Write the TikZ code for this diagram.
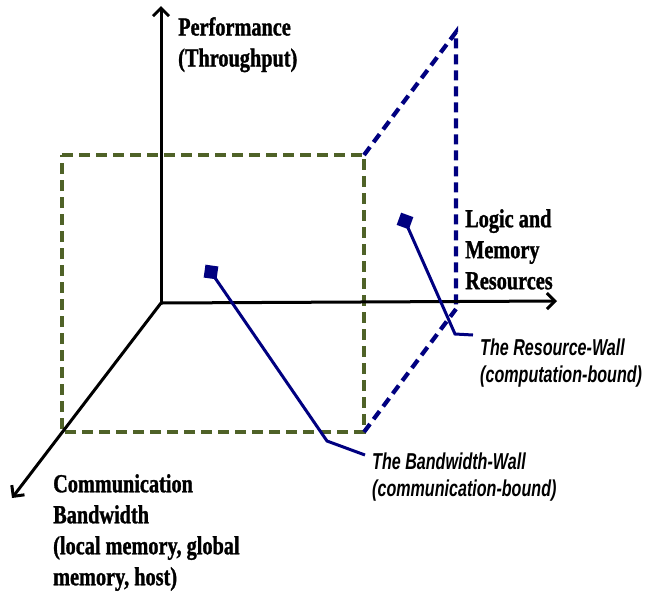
\documentclass[tikz,border=0pt]{standalone}
\usepackage{fontspec}
\usetikzlibrary{arrows.meta}
\newfontfamily\axisfont{Liberation Serif}[FakeStretch=0.78,FakeBold=1.2]
\newfontfamily\wallfont{Liberation Sans}[FakeStretch=0.70]
\definecolor{olivedash}{RGB}{79,98,40}
\definecolor{navyblue}{RGB}{0,0,128}
\begin{document}
\begin{tikzpicture}[x=1pt,y=-1pt,
  axis/.style={line width=3pt,-{Straight Barb[length=8pt,width=16pt,line width=3pt]}},
  greenwall/.style={draw=olivedash,line width=4.2pt,dash pattern=on 11pt off 6pt},
  bluewall/.style={draw=navyblue,line width=4.2pt,dash pattern=on 10pt off 6pt},
  conn/.style={draw=navyblue,line width=3pt},
  marker/.style={fill=navyblue,minimum size=13pt,inner sep=0pt},
  axislabel/.style={font=\axisfont\bfseries\fontsize{26}{31}\selectfont,align=left,anchor=north west,inner sep=0pt},
  walllabel/.style={font=\wallfont\bfseries\itshape\fontsize{23}{27}\selectfont,align=left,anchor=north west,inner sep=0pt}]
\useasboundingbox (0,0) rectangle (660,595);
% walls
\coordinate (g1) at (62,155);
\coordinate (g2) at (364,155);
\coordinate (g3) at (364,432);
\coordinate (g4) at (62,432);
\coordinate (b1) at (456,32);
\coordinate (b2) at (456,309);
\draw[greenwall] (g1) -- (g2) -- (g3) -- (g4) -- cycle;
\draw[bluewall] (g2) -- (b1) -- (b2);
\draw[bluewall] (g3) -- (b2);
% axes
\coordinate (O) at (161,303);
\coordinate (ytip) at (161,6);
\coordinate (xtip) at (557,301);
\coordinate (ztip) at (12,498);
\draw[axis] (O) -- (ytip);
\draw[axis] (O) -- (xtip);
\draw[axis] (O) -- (ztip);
% axis labels
\node[axislabel] (perf) at (178,17) {Performance\\(Throughput)};
\node[axislabel] (logic) at (465,209) {Logic and\\Memory\\Resources};
\node[axislabel] (comm) at (53,474) {Communication\\Bandwidth\\(local memory, global\\memory, host)};
% connectors
\node[marker,rotate=-8] (bm) at (211,272) {};
\coordinate (bk) at (327,441);
\coordinate (be) at (365,455);
\draw[conn] (bm.center) -- (bk) -- (be);
\node[marker,rotate=-20] (rm) at (405,221) {};
\coordinate (rk) at (455,334);
\coordinate (re) at (473,335);
\draw[conn] (rm.center) -- (rk) -- (re);
\node[walllabel] (rl) at (480,339) {The Resource-Wall\\(computation-bound)};
\node[walllabel] (bl) at (372,453) {The Bandwidth-Wall\\(communication-bound)};
\end{tikzpicture}
\end{document}
